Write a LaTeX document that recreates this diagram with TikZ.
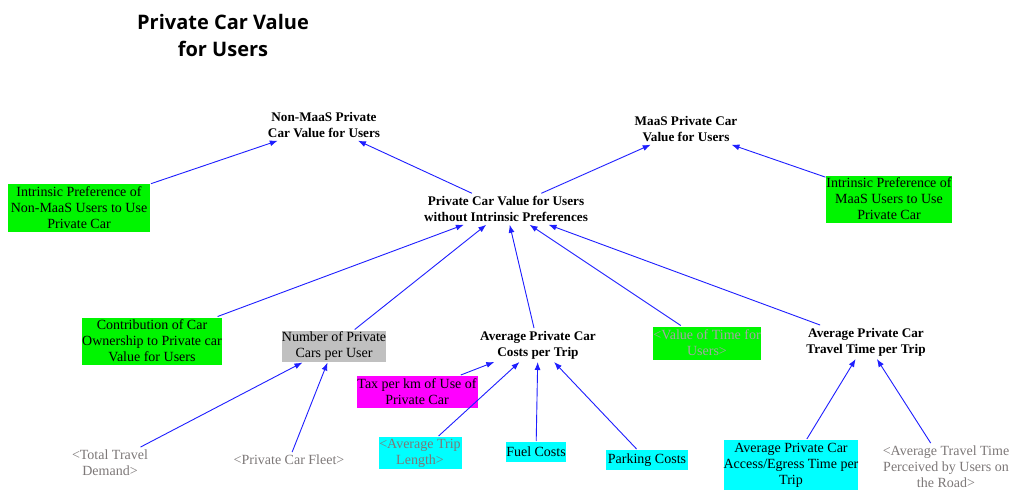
\documentclass[tikz,border=0pt]{standalone}
\usepackage{fontspec}
\setmainfont{Liberation Serif}
\newfontfamily\titlefont{Open Sans}
\usetikzlibrary{arrows.meta}
\definecolor{linkblue}{RGB}{30,30,255}
\definecolor{boxgreen}{RGB}{0,245,0}
\definecolor{boxcyan}{RGB}{0,255,255}
\definecolor{boxmag}{RGB}{255,0,255}
\definecolor{boxgray}{RGB}{192,192,192}
\definecolor{shadowtxt}{RGB}{125,120,120}
\definecolor{lighttxt}{RGB}{165,165,165}

\begin{document}
\begin{tikzpicture}[x=1pt,y=-1pt,
  var/.style={font=\fontsize{14}{16}\selectfont, align=center, inner sep=1pt, outer sep=2pt},
  aux/.style={var, font=\bfseries\fontsize{13.2}{16}\selectfont},
  shadow/.style={var, text=shadowtxt},
  filled/.style={var, fill=#1, inner sep=0pt, outer sep=1pt},
  link/.style={draw=linkblue, line width=0.9pt, -{Latex[length=8pt,width=6pt]}}]

\useasboundingbox (0,0) rectangle (1014,491);
\fill[white] (0,0) rectangle (1014,491);

% title
\node[font=\titlefont\bfseries\fontsize{20}{27}\selectfont, align=center] (title) at (223,35) {Private Car Value\\for Users};

% top level outputs
\node[aux] (nonmaas) at (324,125) {Non-MaaS Private\\Car Value for Users};
\node[aux] (maas) at (686,129) {MaaS Private Car\\Value for Users};
\node[aux] (pcv) at (506,209) {Private Car Value for Users\\without Intrinsic Preferences};

% intrinsic preferences
\node[filled=boxgreen, minimum width=142pt, minimum height=48pt] (inm) at (79,208) {Intrinsic Preference of\\Non-MaaS Users to Use\\Private Car};
\node[filled=boxgreen, minimum width=122pt, minimum height=47pt] (im) at (889,199) {Intrinsic Preference of\\MaaS Users to Use\\Private Car};

% middle row
\node[filled=boxgreen, minimum width=140pt, minimum height=47pt] (contrib) at (152,341) {Contribution of Car\\Ownership to Private car\\Value for Users};
\node[filled=boxgray, minimum width=103pt, minimum height=31pt] (ncars) at (334,346) {Number of Private\\Cars per User};
\node[aux] (costs) at (538,345) {Average Private Car\\Costs per Trip};
\node[filled=boxgreen, minimum width=106pt, minimum height=33pt, text=lighttxt] (vot) at (707,343) {<Value of Time for\\Users>};
\node[aux] (ttime) at (866,342) {Average Private Car\\Travel Time per Trip};

% inputs
\node[filled=boxmag, minimum width=121pt, minimum height=32pt] (tax) at (417,392) {Tax per km of Use of\\Private Car};
\node[filled=boxcyan, minimum width=83pt, minimum height=32pt, text=shadowtxt] (trip) at (420,453) {<Average Trip\\Length>};
\node[filled=boxcyan, minimum width=60pt, minimum height=20pt] (fuel) at (536,452) {Fuel Costs};
\node[filled=boxcyan, minimum width=82pt, minimum height=20pt] (park) at (647,460) {Parking Costs};
\node[filled=boxcyan, minimum width=133pt, minimum height=50pt] (access) at (791,465) {Average Private Car\\Access/Egress Time per\\Trip};
\node[shadow] (perc) at (946,467) {<Average Travel Time\\Perceived by Users on\\the Road>};
\node[shadow] (demand) at (110,463) {<Total Travel\\Demand>};
\node[shadow] (fleet) at (289,460) {<Private Car Fleet>};

% causal links
\draw[link] (inm) -- (nonmaas);
\draw[link] (pcv) -- (nonmaas);
\draw[link] (pcv) -- (maas);
\draw[link] (im) -- (maas);
\draw[link] (contrib) -- (pcv);
\draw[link] (ncars) -- (pcv);
\draw[link] (costs) -- (pcv);
\draw[link] (vot) -- (pcv);
\draw[link] (ttime) -- (pcv);
\draw[link] (demand) -- (ncars);
\draw[link] (fleet) -- (ncars);
\draw[link] (tax) -- (costs);
\draw[link] (trip) -- (costs);
\draw[link] (fuel) -- (costs);
\draw[link] (park) -- (costs);
\draw[link] (access) -- (ttime);
\draw[link] (perc) -- (ttime);
\end{tikzpicture}
\end{document}
